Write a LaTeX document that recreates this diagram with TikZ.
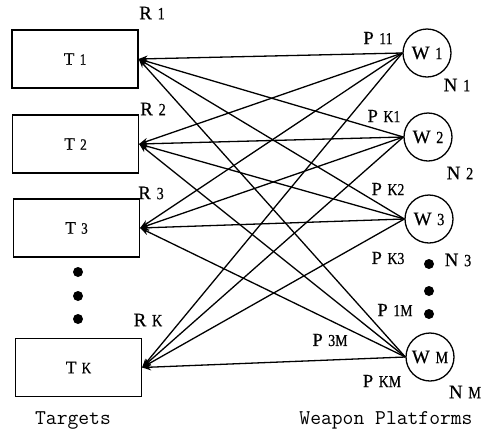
\documentclass[tikz,border=0pt]{standalone}
\usepackage{fontspec}
\setmainfont{Liberation Serif}
\usetikzlibrary{arrows.meta}
\newcommand{\subtx}[1]{\hspace{0.3em}\scalebox{0.75}[0.9]{#1}}
\newcommand{\heavier}{\addfontfeature{FakeBold=0.6}}
\begin{document}
\begin{tikzpicture}[x=1pt,y=-1pt,
  tbox/.style={draw,line width=1.3pt,minimum width=126pt,minimum height=58pt,inner sep=0pt,font=\fontsize{17.5}{19}\selectfont\heavier},
  wcirc/.style={draw,circle,line width=1.3pt,minimum size=48pt,inner sep=0pt,font=\fontsize{19}{21}\selectfont\heavier},
  lab/.style={inner sep=0pt,font=\fontsize{19}{21}\selectfont\heavier},
  labp/.style={inner sep=0pt,font=\fontsize{18.5}{20}\selectfont\heavier},
  dotn/.style={circle,fill=black,minimum size=10pt,inner sep=0pt},
  conn/.style={line width=1.3pt,-{Stealth[length=9pt,width=6.5pt]}},
  captxt/.style={inner sep=0pt,font=\ttfamily\fontsize{21}{23}\selectfont}]
\useasboundingbox (0,0) rectangle (485,432);
% targets
\node[tbox] (T1) at (75,59) {T\subtx{1}};
\node[tbox] (T2) at (75.5,144) {T\subtx{2}};
\node[tbox] (T3) at (76.5,228) {T\subtx{3}};
\node[tbox] (TK) at (78.5,367.5) {T\subtx{K}};
% weapons
\node[wcirc] (W1) at (427,53) {W\subtx{1}};
\node[wcirc] (W2) at (428,137) {W\subtx{2}};
\node[wcirc] (W3) at (429,219) {W\subtx{3}};
\node[wcirc] (WM) at (430,357) {W\subtx{M}};
% connectors
\foreach \w in {W1,W2,W3,WM}{
  \foreach \t in {T1,T2,T3,TK}{
    \draw[conn] (\w.west) -- (\t.east);
  }
}
% R labels
\node[lab] (R1) at (152,13) {R\subtx{1}};
\node[lab] (R2) at (153,109) {R\subtx{2}};
\node[lab] (R3) at (151,193) {R\subtx{3}};
\node[lab] (RK) at (148,320) {R\subtx{K}};
% P labels
\node[labp] (P11) at (378,38) {P\subtx{11}};
\node[labp] (PK1) at (384,116) {P\subtx{K1}};
\node[labp] (PK2) at (388,189) {P\subtx{K2}};
\node[labp] (PK3) at (388,258) {P\subtx{K3}};
\node[labp] (P1M) at (395,310) {P\subtx{1M}};
\node[labp] (P3M) at (330,340) {P\subtx{3M}};
\node[labp] (PKM) at (382,381) {P\subtx{KM}};
% N labels
\node[lab] (N1) at (457,85) {N\subtx{1}};
\node[lab] (N2) at (460,173) {N\subtx{2}};
\node[lab] (N3) at (458,260) {N\subtx{3}};
\node[lab] (NM) at (465,392) {N\subtx{M}};
% dots
\node[dotn] (dl1) at (78,272) {};
\node[dotn] (dl2) at (78,296) {};
\node[dotn] (dl3) at (78,319) {};
\node[dotn] (dr1) at (429,264) {};
\node[dotn] (dr2) at (429,291) {};
\node[dotn] (dr3) at (429,314) {};
% captions
\node[captxt] (tg) at (73,420) {Targets};
\node[captxt] (wp) at (386,420) {Weapon Platforms};
\end{tikzpicture}
\end{document}
